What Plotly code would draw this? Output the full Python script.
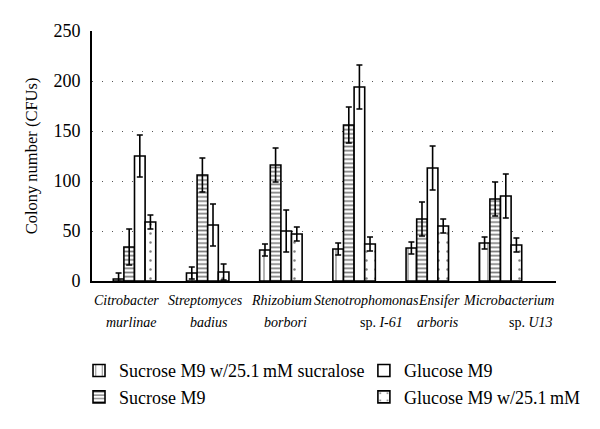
import plotly.graph_objects as go

categories = ["Citrobacter", "Streptomyces", "Rhizobium", "Stenotrophomonas", "Ensifer", "Microbacterium"]
label_line1 = ["<i>Citrobacter</i>", "<i>Streptomyces</i>", "<i>Rhizobium</i>",
               "<i>Stenotrophomonas</i>", "<i>Ensifer</i>", "<i>Microbacterium</i>"]
label_line2 = ["<i>murlinae</i>", "<i>badius</i>", "<i>borbori</i>",
               "sp. <i>I-61</i>", "<i>arboris</i>", "sp. <i>U13</i>"]

series_names = ["Sucrose M9 w/25.1\u2009mM sucralose", "Sucrose M9", "Glucose M9", "Glucose M9 w/25.1\u2009mM"]
sucralose_sucrose = [2, 8, 31, 32, 33, 38]
sucralose_sucrose_err = [6, 6, 6, 6, 6, 6]
sucrose = [34, 106, 116, 156, 62, 82]
sucrose_err = [18, 17, 17, 18, 17, 17]
glucose = [125, 56, 50, 194, 113, 85]
glucose_err = [21, 21, 21, 22, 22, 22]
sucralose_glucose = [59, 9, 47, 37, 55, 36]
sucralose_glucose_err = [7, 8, 7, 7, 7, 7]

values = [sucralose_sucrose, sucrose, glucose, sucralose_glucose]
errors = [sucralose_sucrose_err, sucrose_err, glucose_err, sucralose_glucose_err]

# styling (not data)
patterns = [dict(shape="|", size=8, solidity=0.15, fgcolor="black", bgcolor="white", fillmode="overlay"),
            dict(shape="-", size=4.2, solidity=0.4, fgcolor="black", bgcolor="white", fillmode="overlay"),
            dict(shape="", fgcolor="black", bgcolor="white"),
            dict(shape=".", size=9, solidity=0.06, fgcolor="black", bgcolor="white", fillmode="overlay")]
legends = ["legend", "legend", "legend2", "legend2"]
line1_shift = [-8, -2, 1, 12, 12, 8]
line2_shift = [-3, 1, 5, 27, 11, 30]

FONT = "Liberation Serif"
fig = go.Figure()
for name, v, e, p, lg in zip(series_names, values, errors, patterns, legends):
    fig.add_trace(go.Bar(
        x=categories, y=v, name=name, legend=lg,
        marker=dict(color="white", line=dict(color="black", width=1.6), pattern=p),
        error_y=dict(type="data", array=e, color="black", thickness=1.6, width=3),
    ))

for cat, t1, t2, s1, s2 in zip(categories, label_line1, label_line2, line1_shift, line2_shift):
    fig.add_annotation(x=cat, xref="x", y=0, yref="paper", text=t1, showarrow=False,
                       xanchor="center", yanchor="middle", xshift=s1, yshift=-19,
                       font=dict(size=14, family=FONT, color="black"))
    fig.add_annotation(x=cat, xref="x", y=0, yref="paper", text=t2, showarrow=False,
                       xanchor="center", yanchor="middle", xshift=s2, yshift=-41,
                       font=dict(size=14, family=FONT, color="black"))

# page has an 8px body margin; figure is sized/margined to compensate
fig.update_layout(
    width=592, height=421,
    margin=dict(l=84, r=44, t=23, b=148),
    paper_bgcolor="white", plot_bgcolor="white",
    barmode="group", bargap=0.42, bargroupgap=0,
    font=dict(family=FONT, color="black", size=17),
    xaxis=dict(showline=True, linecolor="black", linewidth=2, showticklabels=False,
               ticks="", automargin=False, showgrid=False),
    yaxis=dict(range=[0, 250], tickvals=[0, 50, 100, 150, 200, 250], showline=True, linecolor="black",
               linewidth=2, ticks="", tickfont=dict(size=18), ticklabelstandoff=6,
               showgrid=True, gridcolor="#555",
               griddash="1px,9px", gridwidth=1, zeroline=False, automargin=False,
               title=dict(text="Colony number (CFUs)", font=dict(size=16.5), standoff=12)),
    legend=dict(x=-0.028, y=-0.285, xanchor="left", yanchor="top", font=dict(size=18), bgcolor="rgba(0,0,0,0)",
                tracegroupgap=0, itemwidth=30),
    legend2=dict(x=0.586, y=-0.285, xanchor="left", yanchor="top", font=dict(size=18), bgcolor="rgba(0,0,0,0)",
                 tracegroupgap=0, itemwidth=30),
)

fig.write_html("out.html")
